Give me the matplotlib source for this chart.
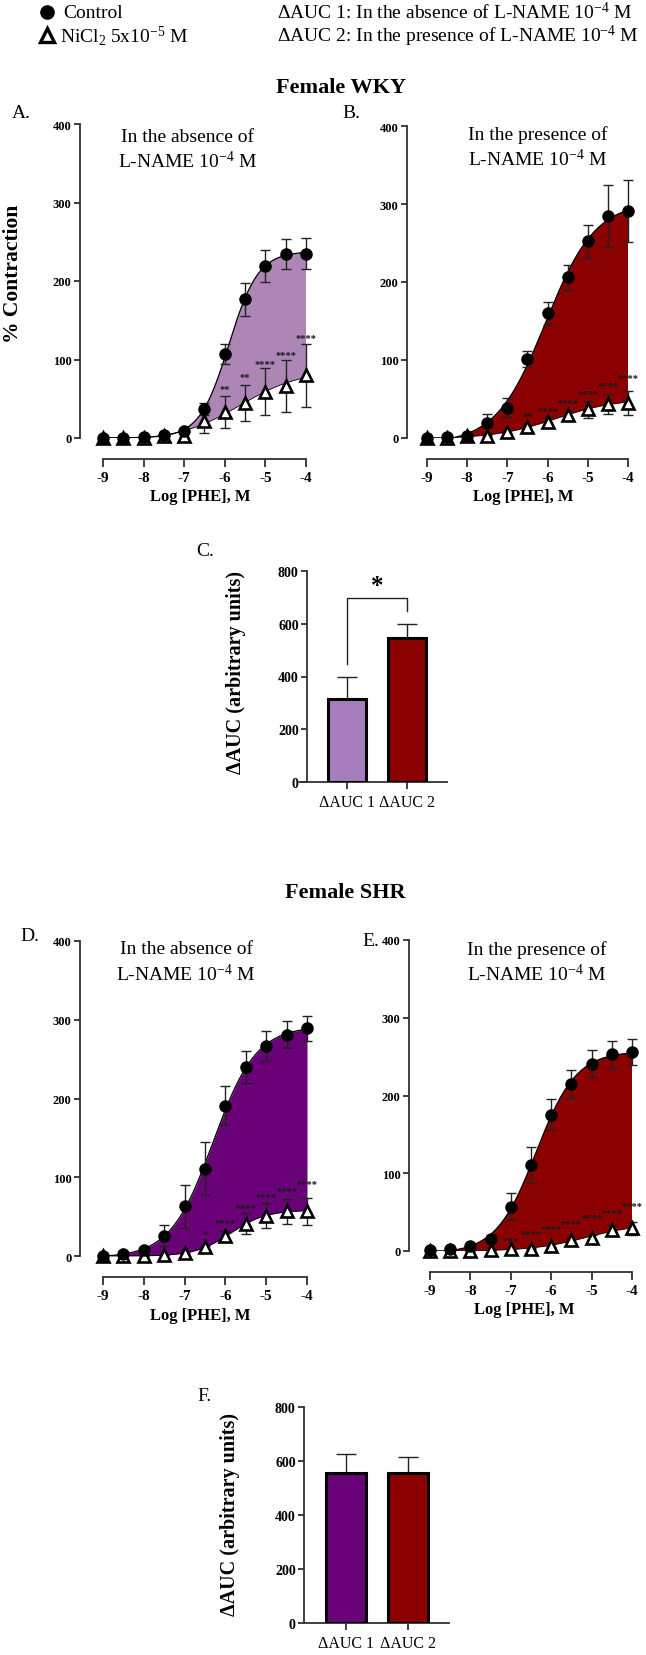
import matplotlib
matplotlib.use('Agg')
import matplotlib.pyplot as plt
from matplotlib.lines import Line2D
import numpy as np

plt.rcParams['font.family'] = ['Liberation Serif', 'DejaVu Serif']
plt.rcParams['mathtext.fontset'] = 'custom'
plt.rcParams['mathtext.rm'] = 'Liberation Serif'
plt.rcParams['mathtext.it'] = 'Liberation Serif:italic'
plt.rcParams['mathtext.bf'] = 'Liberation Serif:bold'

# concentrations, log [PHE] M
log_phe = [-9, -8.5, -8, -7.5, -7, -6.5, -6, -5.5, -5, -4.5, -4]

# A: female WKY, without L-NAME
a_ctrl = [0, 0, 1, 4, 9, 37, 107, 177, 219, 234, 235]
a_ctrl_sem = [0, 0, 0, 1, 2, 8, 13, 21, 20, 19, 20]
a_ni = [0, 0, 0, 2, 3, 22, 33, 45, 59, 66, 80]
a_ni_sem = [0, 0, 0, 1, 2, 15, 20, 23, 30, 33, 40]
a_stars = ['', '', '', '', '', '', '**', '**', '****', '****', '****']
a_star_y = [0, 0, 0, 0, 0, 0, 63, 78, 95, 106, 128]

# B: female WKY, with L-NAME
b_ctrl = [0, 1, 2, 19, 39, 101, 160, 206, 252, 285, 291]
b_ctrl_sem = [0, 0, 0, 12, 12, 10, 15, 16, 21, 40, 40]
b_ni = [0, 0, 2, 3, 8, 14, 21, 29, 37, 44, 45]
b_ni_sem = [0, 0, 0, 1, 2, 3, 6, 6, 11, 13, 15]
b_stars = ['', '', '', '', '', '**', '****', '****', '****', '****', '****']
b_star_y = [0, 0, 0, 0, 0, 29, 35, 46, 57, 67, 77]

# D: female SHR, without L-NAME
d_ctrl = [0, 2, 8, 26, 63, 111, 191, 240, 267, 281, 289]
d_ctrl_sem = [0, 0, 2, 13, 27, 34, 25, 20, 19, 17, 16]
d_ni = [0, 0, 0, 1, 4, 11, 25, 41, 51, 57, 57]
d_ni_sem = [0, 0, 0, 0, 1, 2, 7, 13, 16, 16, 17]
d_stars = ['', '', '', '', '', '*', '****', '****', '****', '****', '****']
d_star_y = [0, 0, 0, 0, 0, 28, 43, 61, 75, 83, 92]

# E: female SHR, with L-NAME
e_ctrl = [1, 2, 6, 15, 57, 111, 175, 215, 241, 253, 256]
e_ctrl_sem = [0, 0, 1, 6, 17, 23, 20, 18, 17, 17, 17]
e_ni = [0, 0, 0, 1, 3, 3, 7, 14, 17, 27, 29]
e_ni_sem = [0, 0, 0, 0, 1, 1, 2, 2, 3, 6, 8]
e_stars = ['', '', '', '', '***', '****', '****', '****', '****', '****', '****']
e_star_y = [0, 0, 0, 0, 14, 22, 29, 35, 43, 50, 59]

# delta AUC bars
auc_labels = ['ΔAUC 1', 'ΔAUC 2']
c_auc = [313, 547]
c_auc_sem = [87, 53]
f_auc = [556, 556]
f_auc_sem = [71, 58]

light_purple = '#a67dbd'
fill_light = '#ad86b6'
dark_purple = '#6a0078'
dark_red = '#8b0000'
axcol = '#303030'

W, H = 646, 1656
fig = plt.figure(figsize=(W / 100, H / 100), dpi=100)


def add_ax(x0, x1, ytop, ybot):
    return fig.add_axes([x0 / W, 1 - ybot / H, (x1 - x0) / W, (ybot - ytop) / H])


def ftext(x, y, s, **kw):
    fig.text(x / W, 1 - y / H, s, **kw)


def hill_fit(x, y):
    # simple 4-parameter logistic fit, grid on EC50 / slope, linear for bottom/top
    x = np.asarray(x, float)
    y = np.asarray(y, float)
    best = None
    for ec in np.linspace(-9, -3, 241):
        for h in np.linspace(0.3, 3, 109):
            s = 1 / (1 + 10 ** ((ec - x) * h))
            A = np.column_stack([1 - s, s])
            coef, *_ = np.linalg.lstsq(A, y, rcond=None)
            err = np.sum((A @ coef - y) ** 2)
            if best is None or err < best[0]:
                best = (err, ec, h, coef)
    _, ec, h, coef = best

    def f(xx):
        s = 1 / (1 + 10 ** ((ec - xx) * h))
        return coef[0] * (1 - s) + coef[1] * s
    return f


def curve_panel(ax, xlim, ctrl, ctrl_sem, ni, ni_sem, stars, star_y, color):
    f1 = hill_fit(log_phe, ctrl)
    f2 = hill_fit(log_phe, ni)
    xs = np.linspace(-9, -4, 300)
    y1 = np.clip(f1(xs), 0, None)
    y2 = np.clip(f2(xs), 0, None)
    ax.fill_between(xs, y2, y1, where=y1 >= y2, color=color, lw=0, zorder=1)
    ax.plot(xs, y1, color='black', lw=0.9, zorder=2)
    ax.plot(xs, y2, color='black', lw=0.6, zorder=2)
    ax.errorbar(log_phe, ctrl, yerr=ctrl_sem, fmt='none', ecolor='#222222',
                elinewidth=1, capsize=3.5, capthick=1, zorder=3, clip_on=False)
    ax.errorbar(log_phe, ni, yerr=ni_sem, fmt='none', ecolor='#222222',
                elinewidth=1, capsize=3.5, capthick=1, zorder=3, clip_on=False)
    ax.plot(log_phe, ni, ls='none', marker='^', ms=8.5, mfc='white', mec='black',
            mew=1.9, zorder=4, clip_on=False)
    ax.plot(log_phe, ctrl, ls='none', marker='o', ms=8, color='black',
            zorder=5, clip_on=False)
    for xv, s, yv in zip(log_phe, stars, star_y):
        if s:
            ax.text(xv, yv, s, ha='center', va='center', fontsize=7.5,
                    fontweight='bold', color='#1a1a1a', zorder=6)
    ax.set_xlim(*xlim)
    ax.set_ylim(0, 400)
    ax.set_yticks([0, 100, 200, 300, 400])
    ax.set_xticks([-9, -8, -7, -6, -5, -4])
    ax.set_xticklabels(['-9', '-8', '-7', '-6', '-5', '-4'])
    for sp in ['top', 'right']:
        ax.spines[sp].set_visible(False)
    ax.spines['left'].set_bounds(0, 400)
    ax.spines['bottom'].set_bounds(-9, -4)
    ax.spines['bottom'].set_position(('outward', 15))
    for sp in ['left', 'bottom']:
        ax.spines[sp].set_color(axcol)
        ax.spines[sp].set_linewidth(1.3)
    ax.tick_params(axis='both', colors=axcol, width=1.3, length=4,
                   labelcolor='black', pad=2)
    ax.tick_params(axis='y', labelsize=9)
    ax.tick_params(axis='x', labelsize=11, length=6, pad=3)
    for lab in ax.get_xticklabels() + ax.get_yticklabels():
        lab.set_fontweight('bold')
    ax.set_xlabel('Log [PHE], M', fontsize=12, fontweight='bold', labelpad=3)
    ax.patch.set_alpha(0)


def bar_panel(ax, vals, sems, colors, xlim, spine_x, width):
    xpos = np.arange(len(vals))
    ax.bar(xpos, vals, width=width, color=colors, edgecolor='black',
           linewidth=2.2, zorder=3)
    ax.errorbar(xpos, vals, yerr=[np.zeros(len(sems)), sems], fmt='none',
                ecolor='#222222', elinewidth=1, capsize=7, capthick=1, zorder=2)
    ax.set_xlim(*xlim)
    ax.set_ylim(0, 800)
    ax.set_yticks([0, 200, 400, 600, 800])
    ax.set_xticks(xpos)
    ax.set_xticklabels(auc_labels)
    for sp in ['top', 'right']:
        ax.spines[sp].set_visible(False)
    ax.spines['left'].set_position(('data', spine_x))
    ax.spines['left'].set_bounds(0, 800)
    for sp in ['left', 'bottom']:
        ax.spines[sp].set_color(axcol)
        ax.spines[sp].set_linewidth(1.3)
    ax.tick_params(axis='both', colors=axcol, width=1.3, length=4,
                   labelcolor='black', pad=2)
    ax.tick_params(axis='y', labelsize=10)
    ax.tick_params(axis='x', labelsize=11.5, pad=4, length=5)
    for lab in ax.get_yticklabels():
        lab.set_fontweight('bold')
    ax.patch.set_alpha(0)


# legend block at the top
fig.add_artist(Line2D([47 / W], [1 - 13 / H], marker='o', ms=9.5, color='black',
                      transform=fig.transFigure))
fig.add_artist(Line2D([47 / W], [1 - 36 / H], marker='^', ms=9.5, mfc='white',
                      mec='black', mew=2.4, transform=fig.transFigure, ls='none'))
ftext(63, 13, 'Control', fontsize=14, va='center')
ftext(60, 36, r'NiCl$_2$ 5x10$^{-5}$ M', fontsize=14, va='center')
ftext(277, 13, r'ΔAUC 1: In the absence of L-NAME 10$^{-4}$ M', fontsize=14, va='center')
ftext(277, 36, r'ΔAUC 2: In the presence of L-NAME 10$^{-4}$ M', fontsize=14, va='center')

ftext(341, 88, 'Female WKY', fontsize=16, fontweight='bold', ha='center', va='center')
ftext(345, 893, 'Female SHR', fontsize=16, fontweight='bold', ha='center', va='center')

# A
axA = add_ax(80, 320, 125, 439)
curve_panel(axA, (-9 - 23 / 40.6, -4 + 14 / 40.6), a_ctrl, a_ctrl_sem, a_ni, a_ni_sem,
            a_stars, a_star_y, fill_light)
# B
axB = add_ax(407, 640, 127, 439)
curve_panel(axB, (-9 - 20 / 40.2, -4 + 12 / 40.2), b_ctrl, b_ctrl_sem, b_ni, b_ni_sem,
            b_stars, b_star_y, dark_red)
# D
axD = add_ax(80, 320, 942, 1257)
curve_panel(axD, (-9 - 23 / 40.8, -4 + 13 / 40.8), d_ctrl, d_ctrl_sem, d_ni, d_ni_sem,
            d_stars, d_star_y, dark_purple)
# E
axE = add_ax(409, 640, 941, 1252)
curve_panel(axE, (-9 - 21 / 40.4, -4 + 8 / 40.4), e_ctrl, e_ctrl_sem, e_ni, e_ni_sem,
            e_stars, e_star_y, dark_red)

ftext(13, 274, '% Contraction', fontsize=15.5, fontweight='bold', rotation=90,
      ha='center', va='center')

# C
axC = add_ax(299, 447, 572, 783)
bar_panel(axC, c_auc, c_auc_sem, [light_purple, dark_red], (-0.8, 1.667), -0.667, 0.63)
axC.plot([0, 0, 1, 1], [449, 699, 699, 648], color='#222222', lw=1)
axC.text(0.5, 745, '*', ha='center', va='center', fontsize=18, fontweight='bold')
ftext(236, 672, 'ΔAUC (arbitrary units)', fontsize=14.5, fontweight='bold',
      rotation=90, ha='center', va='center')

# F
axF = add_ax(304, 449, 1408, 1624)
bar_panel(axF, f_auc, f_auc_sem, [dark_purple, dark_red], (-0.677, 1.66), -0.677, 0.645)
ftext(230, 1515, 'ΔAUC (arbitrary units)', fontsize=14.5, fontweight='bold',
      rotation=90, ha='center', va='center')

# subtitles
for cx, y1, line1 in [(188, 137, 'In the absence of'), (538, 135, 'In the presence of'),
                      (186, 950, 'In the absence of'), (537, 950, 'In the presence of')]:
    ftext(cx, y1, line1, fontsize=14, ha='center', va='center')
    ftext(cx, y1 + 25, r'L-NAME 10$^{-4}$ M', fontsize=14, ha='center', va='center')

# panel letters
for x, y, s in [(12, 113, 'A.'), (342, 113, 'B.'), (196, 552, 'C.'),
                (20, 937, 'D.'), (362, 942, 'E.'), (197, 1397, 'F.')]:
    ftext(x, y, s, fontsize=14, ha='left', va='center')

fig.savefig('out.png', dpi=100)
